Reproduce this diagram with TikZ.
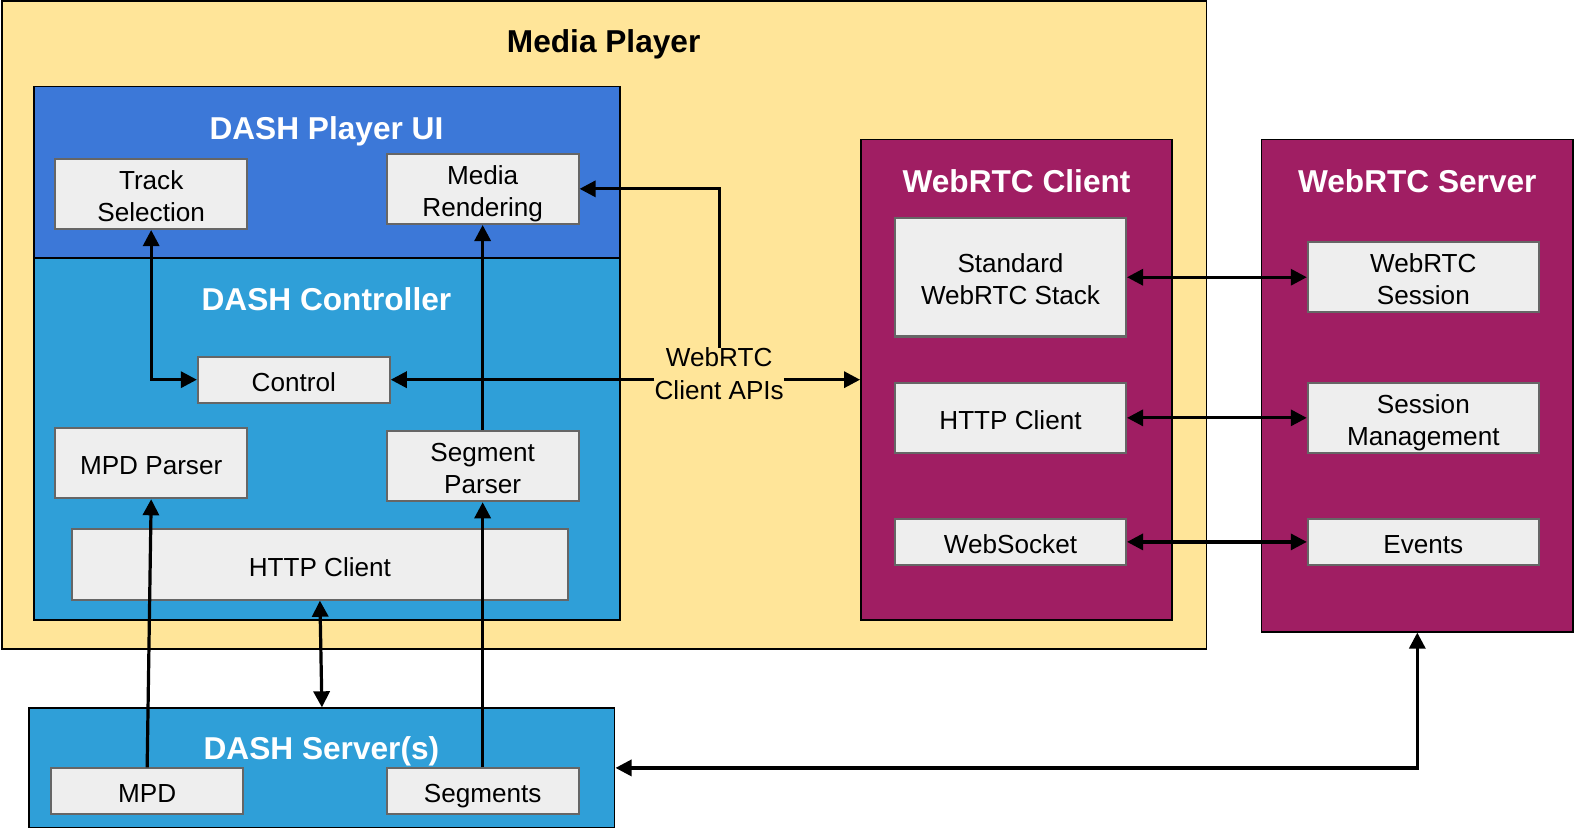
\documentclass[tikz,border=0pt]{standalone}
\usepackage{fontspec}
\setmainfont{Liberation Sans}
\usetikzlibrary{arrows.meta}
\definecolor{mpyellow}{HTML}{FFE599}
\definecolor{uiblue}{HTML}{3C78D8}
\definecolor{ctrlblue}{HTML}{2F9FD8}
\definecolor{rtcmag}{HTML}{A01E63}
\definecolor{gfill}{HTML}{EEEEEE}
\definecolor{gborder}{HTML}{666666}
\tikzset{
  container/.style={draw=black, line width=1.5pt, inner sep=0pt},
  title/.style={font=\fontsize{31.5}{38}\selectfont\bfseries, text=white, inner sep=0pt,
    text height=23pt, text depth=0pt},
  gbox/.style={draw=gborder, fill=gfill, line width=2pt, inner sep=0pt, align=center,
    font=\fontsize{26}{32}\selectfont, text depth=0pt},
  oneline/.style={text height=23pt},
  twoline/.style={text height=55pt},
  conn/.style={line width=3.2pt, -{Triangle[length=16pt,width=16pt]}},
  dconn/.style={line width=3.2pt, {Triangle[length=16pt,width=16pt]}-{Triangle[length=16pt,width=16pt]}},
}
\begin{document}
\begin{tikzpicture}[x=1pt,y=-1pt]
\useasboundingbox (0,0) rectangle (1568,826);
% containers
\path[container, fill=mpyellow] (2,1) rectangle (1201,646);
\node[title, text=black] (mptitle) at (601,41) {Media Player};
\path[container, fill=uiblue] (34,86) rectangle (617,257);
\path[container, fill=ctrlblue] (34,257) rectangle (617,617);
\node[title] (uititle) at (325,127) {DASH Player UI};
\node[title] (ctitle) at (325,298) {DASH Controller};
\node[container, fill=rtcmag, minimum width=310, minimum height=478] (wc) at (1012,378) {};
\node[title] (wctitle) at (1012,180) {WebRTC Client};
\node[container, fill=rtcmag, minimum width=310, minimum height=490] (ws) at (1411,384) {};
\node[title] (wstitle) at (1411,180) {WebRTC Server};
\node[container, fill=ctrlblue, minimum width=583, minimum height=119] (ds) at (320.5,764.5) {};
\node[title] (dstitle) at (320,745) {DASH Server(s)};
% inner boxes
\node[gbox, twoline, minimum width=191, minimum height=70] (ts) at (150.5,193) {Track\\Selection};
\node[gbox, twoline, minimum width=191, minimum height=70] (mr) at (480.5,188) {Media\\Rendering};
\node[gbox, oneline, minimum width=191, minimum height=46] (ctrl) at (292.5,378) {Control};
\node[gbox, oneline, minimum width=191, minimum height=70] (mpdp) at (150.5,461) {MPD Parser};
\node[gbox, twoline, minimum width=191, minimum height=70] (sp) at (480.5,464) {Segment\\Parser};
\node[gbox, oneline, minimum width=493, minimum height=70] (hc) at (318.5,562) {HTTP Client};
\node[gbox, twoline, minimum width=230, minimum height=118] (stack) at (1006,276) {Standard\\WebRTC Stack};
\node[gbox, oneline, minimum width=230, minimum height=70] (hc2) at (1006,416) {HTTP Client};
\node[gbox, oneline, minimum width=230, minimum height=45] (wsock) at (1006,539.5) {WebSocket};
\node[gbox, twoline, minimum width=230, minimum height=70] (sess) at (1417,276) {WebRTC\\Session};
\node[gbox, twoline, minimum width=230, minimum height=70] (smg) at (1417,416) {Session\\Management};
\node[gbox, oneline, minimum width=230, minimum height=45] (ev) at (1417,539.5) {Events};
\node[gbox, oneline, minimum width=191, minimum height=45] (mpd) at (146.5,787.5) {MPD};
\node[gbox, oneline, minimum width=191, minimum height=45] (seg) at (480.5,787.5) {Segments};
% label
\node[align=center, inner sep=0pt, font=\fontsize{26}{32}\selectfont] (api) at (716,372) {WebRTC\\Client APIs};
% connectors
\draw[dconn] (ts.south) |- (ctrl.west);
\draw[conn] (sp.north) -- (mr.south);
\draw[conn] (mpd.north) -- (mpdp.south);
\draw[conn] (seg.north) -- (sp.south);
\draw[dconn] (hc.south) -- (ds.north);
\draw[conn] (api.north) |- (mr.east);
\draw[conn] (ctrl.east -| api.west) -- (ctrl.east);
\draw[conn] (api.east |- wc.west) -- (wc.west);
\draw[dconn] (stack.east) -- (sess.west);
\draw[dconn] (hc2.east) -- (smg.west);
\draw[dconn] (wsock.east) -- (ev.west);
\draw[dconn] (ws.south) |- (ds.east);
\end{tikzpicture}
\end{document}
